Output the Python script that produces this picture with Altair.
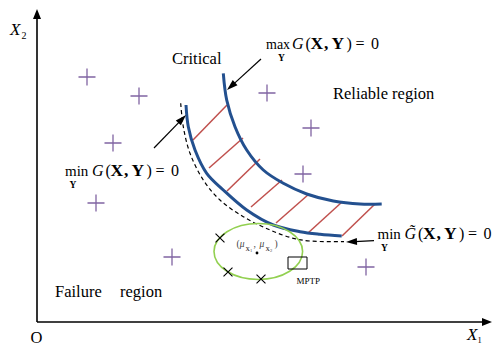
import math
import altair as alt
import pandas as pd

W, H = 485, 338
XD = [8, 8 + W]
YD = [8, 8 + H]

# limit-state curves (diagram coordinates)
upper_x = [223.3, 226.7, 235.0, 246.7, 263.3, 283.3, 306.7, 333.3, 360.0, 381.7]
upper_y = [73.3, 100.0, 126.7, 150.0, 170.0, 183.3, 194.0, 201.0, 204.0, 204.0]
lower_x = [186.0, 188.3, 195.0, 206.7, 223.3, 246.7, 273.3, 300.0, 320.0, 341.7]
lower_y = [105.0, 126.7, 150.0, 173.3, 190.0, 210.0, 225.0, 231.7, 234.3, 236.0]
dash_x = [180.7, 183.3, 190.0, 203.3, 220.0, 243.3, 270.0, 293.3, 310.0, 344.0]
dash_y = [103.3, 126.7, 153.3, 180.0, 200.0, 216.7, 230.0, 238.3, 241.0, 241.7]

# hatch segments between the two curves
hatch_x1 = [193, 209, 227, 251, 276, 308, 342]
hatch_y1 = [140, 168, 191, 207, 223, 233, 236]
hatch_x2 = [227, 243, 260, 282, 309, 342, 375]
hatch_y2 = [105, 138, 159, 180, 194, 202, 204]

# sample points
plus_x = [87, 139, 113, 96, 172, 267, 311, 303, 366]
plus_y = [77, 96, 143, 203, 257, 93, 128, 174, 267]
cross_x = [220, 228, 261]
cross_y = [238, 272, 279]

# mean point, ellipse, MPTP box
mean_x, mean_y = 257, 253
ell_x, ell_y, ell_rx, ell_ry = 258.3, 251.5, 44.3, 28.0
box_x1, box_y1, box_x2, box_y2 = 288, 257, 307, 269

# arrows: tail -> tip
axis_tail_x = [37, 37]
axis_tail_y = [322, 322]
axis_tip_x = [37, 492]
axis_tip_y = [9, 322]
ann_tail_x = [261, 154, 374]
ann_tail_y = [59, 148, 240.7]
ann_tip_x = [227, 186, 346]
ann_tip_y = [90, 115, 242]

# text
plain_text = ["Critical", "Reliable region", "Failure", "region", "O"]
plain_x = [172, 333, 55, 120, 30.5]
plain_y = [63.5, 99, 297, 297, 342.5]

formula_word = ["max", "min", "min"]
formula_word_x = [266, 65, 377.5]
formula_word_size = [14, 15, 15]
formula_g_x = [292, 92, 404.5]
formula_base = [48.7, 176, 239]
formula_sub_x = [278, 69.5, 381]
formula_sub_y = [61, 187.5, 250.5]
formula_g = ["G", "G", "G\u0303"]

BLUE = "#23508f"
RED = "#c0504d"
PURPLE = "#8064a2"
GREEN = "#92d050"
FONT = "Liberation Serif"

xs = alt.Scale(domain=XD, nice=False, zero=False)
ys = alt.Scale(domain=YD, nice=False, zero=False, reverse=True)
X = alt.X("x:Q", scale=xs, axis=None)
Y = alt.Y("y:Q", scale=ys, axis=None)

rows = []
for name, cx, cy in [("upper", upper_x, upper_y), ("lower", lower_x, lower_y)]:
    for i, (a, b) in enumerate(zip(cx, cy)):
        rows.append({"curve": name, "i": i, "x": a, "y": b})
curves_df = pd.DataFrame(rows)
dash_df = pd.DataFrame({"x": dash_x, "y": dash_y, "i": range(len(dash_x))})

curves = alt.Chart(curves_df).mark_line(
    color=BLUE, strokeWidth=3, interpolate="catmull-rom"
).encode(x=X, y=Y, detail="curve:N", order="i:Q")

dashed = alt.Chart(dash_df).mark_line(
    color="black", strokeWidth=1.2, strokeDash=[4, 3], interpolate="catmull-rom"
).encode(x=X, y=Y, order="i:Q")

hatch_df = pd.DataFrame({"x": hatch_x1, "y": hatch_y1, "x2": hatch_x2, "y2": hatch_y2})
hatch = alt.Chart(hatch_df).mark_rule(color=RED, strokeWidth=1.5).encode(
    x=X, y=Y, x2="x2:Q", y2="y2:Q")

plus_df = pd.DataFrame({"x": plus_x, "y": plus_y})
plus = alt.Chart(plus_df).mark_point(
    shape="M-1,0L1,0M0,-1L0,1", filled=False, color=PURPLE, strokeWidth=1.3, size=290, opacity=1
).encode(x=X, y=Y)

cross_df = pd.DataFrame({"x": cross_x, "y": cross_y})
cross = alt.Chart(cross_df).mark_point(
    shape="M-1,-1L1,1M-1,1L1,-1", filled=False, color="black", strokeWidth=1.1, size=80, opacity=1
).encode(x=X, y=Y)

b = ell_ry / ell_rx
k = 0.5523
ell_path = (f"M1,0C1,{k*b:.4f},{k:.4f},{b:.4f},0,{b:.4f}"
            f"C{-k:.4f},{b:.4f},-1,{k*b:.4f},-1,0"
            f"C-1,{-k*b:.4f},{-k:.4f},{-b:.4f},0,{-b:.4f}"
            f"C{k:.4f},{-b:.4f},1,{-k*b:.4f},1,0Z")
ell_df = pd.DataFrame({"x": [ell_x], "y": [ell_y]})
ellipse = alt.Chart(ell_df).mark_point(
    shape=ell_path, filled=False, color=GREEN, strokeWidth=1.6, size=(2 * ell_rx) ** 2, opacity=1
).encode(x=X, y=Y)

mean_df = pd.DataFrame({"x": [mean_x], "y": [mean_y]})
mean = alt.Chart(mean_df).mark_point(filled=True, color="black", size=8, opacity=1).encode(x=X, y=Y)

box_df = pd.DataFrame({"x": [box_x1], "y": [box_y1], "x2": [box_x2], "y2": [box_y2]})
box = alt.Chart(box_df).mark_rect(fillOpacity=0, stroke="black", strokeWidth=1).encode(
    x=X, y=Y, x2="x2:Q", y2="y2:Q")


def arrow_layers(tx, ty, hx, hy, head_len, head_half, width):
    rr, hh = [], []
    for a, b_, c, d in zip(tx, ty, hx, hy):
        dx, dy = c - a, d - b_
        L = math.hypot(dx, dy)
        ux, uy = dx / L, dy / L
        ex, ey = c - ux * head_len * 0.8, d - uy * head_len * 0.8
        rr.append({"x": a, "y": b_, "x2": ex, "y2": ey})
        ang = math.degrees(math.atan2(ux, -uy)) % 360
        hh.append({"x": c - ux * head_len / 2, "y": d - uy * head_len / 2, "ang": ang})
    r = alt.Chart(pd.DataFrame(rr)).mark_rule(color="black", strokeWidth=width).encode(
        x=X, y=Y, x2="x2:Q", y2="y2:Q")
    h = alt.Chart(pd.DataFrame(hh)).mark_point(
        shape=f"M0,-1L{head_half:.3f},1L{-head_half:.3f},1Z", filled=True, color="black",
        size=head_len ** 2, opacity=1, strokeWidth=0
    ).encode(x=X, y=Y, angle=alt.Angle("ang:Q", scale=None))
    return [r, h]


axes = arrow_layers(axis_tail_x, axis_tail_y, axis_tip_x, axis_tip_y, 10, 0.8, 1.6)
anns = arrow_layers(ann_tail_x, ann_tail_y, ann_tip_x, ann_tip_y, 11, 0.64, 1.2)

# text rows
reg, ita, bol = [], [], []
for t, x, y in zip(plain_text, plain_x, plain_y):
    reg.append({"x": x, "y": y, "t": t, "s": 16.5, "c": "black"})
ita.append({"x": 10, "y": 35, "t": "X", "s": 17, "c": "black"})
reg.append({"x": 21.5, "y": 38.5, "t": "2", "s": 10, "c": "black"})
ita.append({"x": 467, "y": 340, "t": "X", "s": 17, "c": "black"})
reg.append({"x": 477.5, "y": 343, "t": "1", "s": 8.5, "c": "black"})

offs_reg = [("(", 13.5), (")", 54.5), ("=", 63.5), ("0", 79)]
offs_bold = [("X", 18.5), (",", 32), ("Y", 39.5)]
for w, wx, ws, gx, base, sx, sy, g in zip(formula_word, formula_word_x, formula_word_size,
                                          formula_g_x, formula_base, formula_sub_x,
                                          formula_sub_y, formula_g):
    reg.append({"x": wx, "y": base, "t": w, "s": ws, "c": "black"})
    ita.append({"x": gx, "y": base, "t": g, "s": 16, "c": "black"})
    for t, o in offs_reg:
        reg.append({"x": gx + o, "y": base, "t": t, "s": 16, "c": "black"})
    for t, o in offs_bold:
        bol.append({"x": gx + o, "y": base, "t": t, "s": 17.5, "c": "black"})
    bol.append({"x": sx, "y": sy, "t": "Y", "s": 9.5, "c": "black"})

# mean label
GREY = "#444444"
reg.append({"x": 236.5, "y": 247, "t": "(", "s": 9.5, "c": GREY})
ita.append({"x": 239.8, "y": 247, "t": "\u03bc", "s": 9.5, "c": GREY})
bol.append({"x": 245.5, "y": 250.5, "t": "X", "s": 6, "c": GREY})
reg.append({"x": 250, "y": 251.5, "t": "1", "s": 4.5, "c": GREY})
reg.append({"x": 253.5, "y": 247, "t": ",", "s": 9.5, "c": GREY})
ita.append({"x": 259.5, "y": 247, "t": "\u03bc", "s": 9.5, "c": GREY})
bol.append({"x": 265.5, "y": 250.5, "t": "X", "s": 6, "c": GREY})
reg.append({"x": 270, "y": 251.5, "t": "2", "s": 4.5, "c": GREY})
reg.append({"x": 274.5, "y": 247, "t": ")", "s": 9.5, "c": GREY})
reg.append({"x": 296.5, "y": 284, "t": "MPTP", "s": 9, "c": "black"})


def text_layer(rows_, style, weight):
    return alt.Chart(pd.DataFrame(rows_)).mark_text(
        align="left", baseline="alphabetic", font=FONT, fontStyle=style, fontWeight=weight
    ).encode(x=X, y=Y, text="t:N", size=alt.Size("s:Q", scale=None),
             color=alt.Color("c:N", scale=None))


texts = [text_layer(reg, "normal", "normal"), text_layer(ita, "italic", "normal"),
         text_layer(bol, "normal", "bold")]

chart = alt.layer(
    hatch, curves, dashed, ellipse, box, plus, cross, mean, *axes, *anns, *texts
).properties(
    width=W, height=H, padding=0,
    autosize=alt.AutoSizeParams(type="none"),
).configure_view(stroke=None)

chart.save("out.html", embed_options={"renderer": "svg", "actions": False})
